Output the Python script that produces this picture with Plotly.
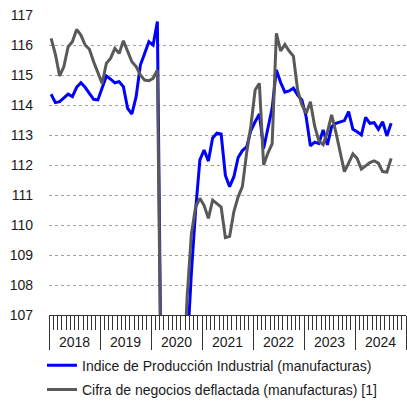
import plotly.graph_objects as go

# Monthly series, Jan 2018 .. Sep 2024 (index 0 = Jan 2018)
ipi = [
    114.36, 114.08, 114.11, 114.22, 114.36, 114.28, 114.59, 114.74, 114.59, 114.39, 114.19, 114.17,  # 2018
    114.56, 114.97, 114.86, 114.74, 114.78, 114.61, 113.89, 113.70, 114.28, 115.33, 115.72, 116.11,  # 2019
    116.00, 116.78, 103.0, 75.0, 88.0, 98.0, 102.0, 104.0, 105.8, 108.4, 110.5, 112.17,             # 2020
    112.50, 112.13, 112.90, 113.06, 113.03, 111.65, 111.28, 111.61, 112.25, 112.48, 112.60, 113.15,  # 2021
    113.44, 113.70, 112.55, 113.17, 113.89, 115.17, 114.75, 114.43, 114.47, 114.56, 114.33, 114.17,  # 2022
    113.61, 112.64, 112.76, 112.72, 113.17, 112.67, 113.28, 113.39, 113.44, 113.48, 113.78, 113.19,  # 2023
    113.11, 113.00, 113.59, 113.39, 113.41, 113.19, 113.44, 112.97, 113.39,                          # 2024
]
cifra = [
    116.22, 115.69, 114.97, 115.28, 115.94, 116.11, 116.52, 116.33, 116.00, 115.86, 115.44, 115.09,  # 2018
    114.72, 115.39, 115.56, 115.89, 115.72, 116.14, 115.78, 115.44, 115.28, 115.00, 114.83, 114.81,  # 2019
    114.89, 115.17, 103.0, 72.0, 85.0, 97.0, 102.0, 104.5, 107.6, 109.7, 110.60, 110.89,            # 2020
    110.65, 110.22, 110.83, 110.70, 110.60, 109.58, 109.62, 110.45, 110.94, 111.28, 112.40, 113.30,  # 2021
    114.50, 114.72, 112.00, 112.40, 112.70, 116.39, 115.80, 116.02, 115.80, 115.63, 114.50, 114.00,  # 2022
    113.72, 114.11, 113.30, 112.80, 112.68, 113.10, 113.67, 113.09, 112.44, 111.78, 112.06, 112.37,  # 2023
    112.22, 111.86, 111.97, 112.08, 112.14, 112.06, 111.78, 111.76, 112.22,                          # 2024
]
years = ["2018", "2019", "2020", "2021", "2022", "2023", "2024"]
y_ticks = list(range(107, 118))
name_ipi = "Indice de Producción Industrial (manufacturas)"
name_cifra = "Cifra de negocios deflactada (manufacturas) [1]"

months = list(range(len(ipi)))
FONT = "Liberation Sans, Arial, sans-serif"

fig = go.Figure()
fig.add_trace(go.Scatter(x=months, y=ipi, mode="lines", name=name_ipi,
                         line=dict(color="#0000FF", width=3), legendgroup="a"))
fig.add_trace(go.Scatter(x=months, y=cifra, mode="lines", name=name_cifra,
                         line=dict(color="#595959", width=3), legendgroup="b"))

n_years = len(years)
year_bounds = [12 * k - 0.5 for k in range(n_years + 1)]
month_bounds = [m - 0.5 for m in range(12 * n_years + 1)]

fig.update_xaxes(
    range=[-0.5, 12 * n_years - 0.5], automargin=False,
    tickmode="array", tickvals=year_bounds, showticklabels=False,
    ticks="outside", ticklen=34, tickwidth=1, tickcolor="#333333",
    showline=True, linecolor="#333333", linewidth=1,
    showgrid=False, zeroline=False,
    minor=dict(tickmode="array", tickvals=month_bounds, ticks="outside",
               ticklen=14, tickwidth=1, tickcolor="#333333", showgrid=False),
)
fig.update_yaxes(
    range=[107, 117], tickmode="array", tickvals=y_ticks, automargin=False,
    ticks="", ticklabelstandoff=15,
    showgrid=True, gridcolor="#a0a0a0", griddash="dot", gridwidth=1,
    zeroline=False, showline=False,
    tickfont=dict(family=FONT, size=14, color="#1a1a1a"),
)

for k, yr in enumerate(years):
    fig.add_annotation(x=12 * k + 5.5, y=-0.089, xref="x", yref="paper",
                       text=yr, showarrow=False, yanchor="middle",
                       font=dict(family=FONT, size=14, color="#1a1a1a"))

fig.update_layout(
    width=407, height=401,
    margin=dict(l=49, r=1, t=15, b=86, autoexpand=False),
    paper_bgcolor="white", plot_bgcolor="white",
    font=dict(family=FONT, size=14, color="#1a1a1a"),
    legend=dict(x=42 / 407, y=1 - 349.6 / 401, xref="container", yref="container",
                xanchor="left", yanchor="top",
                orientation="v", tracegroupgap=3,
                font=dict(family=FONT, size=14, color="#1a1a1a"),
                bgcolor="rgba(0,0,0,0)"),
    showlegend=True,
)

fig.write_html(
    "out.html",
    config={"displayModeBar": False},
    post_script="document.body.style.margin='0';document.body.style.padding='0';"
                "document.body.style.overflow='hidden';",
)
